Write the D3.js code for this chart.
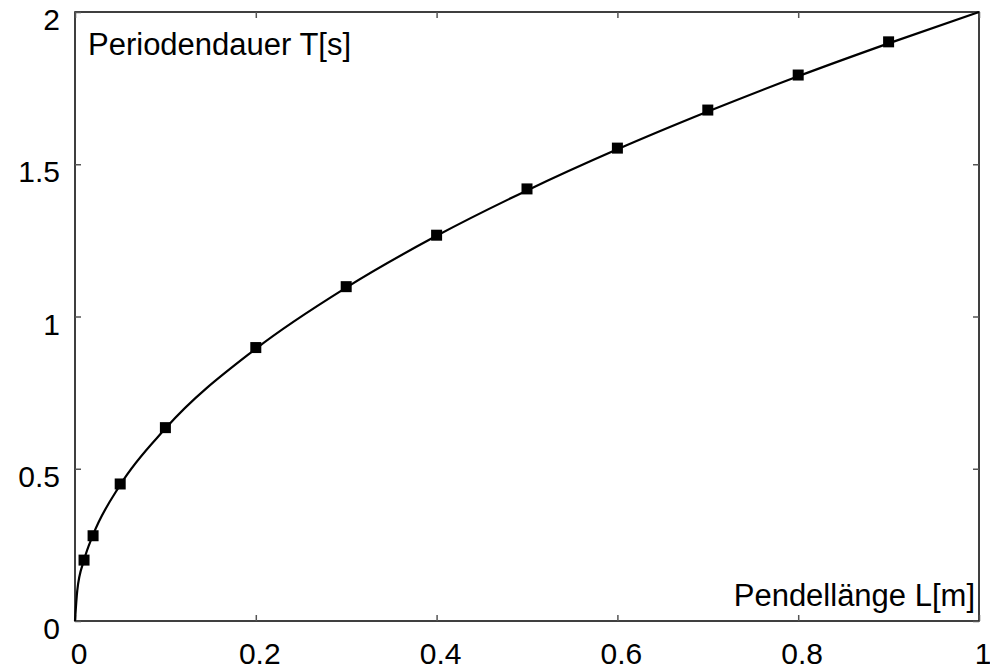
<!DOCTYPE html>
<html>
<head>
<meta charset="UTF-8">
<script src="https://d3js.org/d3.v7.min.js"></script>
<style>
  body { margin: 0; background: #fff; }
  text { font-family: "Liberation Sans", Arial, sans-serif; fill: #000; }
</style>
</head>
<body>
<svg id="chart" width="990" height="672"></svg>
<script>
// measured pendulum points
const lengths = [0.01, 0.02, 0.05, 0.1, 0.2, 0.3, 0.4, 0.5, 0.6, 0.7, 0.8, 0.9];
const periods = [0.2, 0.28, 0.45, 0.635, 0.898, 1.098, 1.267, 1.419, 1.553, 1.678, 1.793, 1.902];

// fitted curve
const curveL = [0, 0.0025, 0.01, 0.02, 0.05, 0.1, 0.2, 0.3, 0.4, 0.5, 0.6, 0.7, 0.8, 0.9, 1.0];
const curveT = [0, 0.1, 0.2, 0.283, 0.447, 0.632, 0.894, 1.095, 1.265, 1.414, 1.549, 1.673, 1.789, 1.897, 2.0];

const xTicks = [0, 0.2, 0.4, 0.6, 0.8, 1];
const xTickLabels = ["0", "0.2", "0.4", "0.6", "0.8", "1"];
const yTicks = [0, 0.5, 1, 1.5, 2];
const yTickLabels = ["0", "0.5", "1", "1.5", "2"];

const plotL = 75, plotR = 979, plotT = 12, plotB = 621;
const svg = d3.select("#chart");

const x = d3.scaleLinear().domain([0, 1]).range([plotL, plotR]);
const y = d3.scaleLinear().domain([0, 2]).range([plotB, plotT]);

// frame
svg.append("rect")
  .attr("x", plotL).attr("y", plotT)
  .attr("width", plotR - plotL).attr("height", plotB - plotT)
  .attr("fill", "none").attr("stroke", "#000").attr("stroke-width", 1.5);

// inward ticks on all four sides
const tl = 6;
svg.append("g").attr("transform", `translate(0,${plotB})`)
  .call(d3.axisBottom(x).tickValues(xTicks).tickSize(-tl).tickFormat(""))
  .call(g => g.select(".domain").remove());
svg.append("g").attr("transform", `translate(0,${plotT})`)
  .call(d3.axisTop(x).tickValues(xTicks).tickSize(-tl).tickFormat(""))
  .call(g => g.select(".domain").remove());
svg.append("g").attr("transform", `translate(${plotL},0)`)
  .call(d3.axisLeft(y).tickValues(yTicks).tickSize(-tl).tickFormat(""))
  .call(g => g.select(".domain").remove());
svg.append("g").attr("transform", `translate(${plotR},0)`)
  .call(d3.axisRight(y).tickValues(yTicks).tickSize(-tl).tickFormat(""))
  .call(g => g.select(".domain").remove());
svg.selectAll(".tick line").attr("stroke", "#555").attr("stroke-width", 1.5);

// tick labels
svg.append("g").selectAll("text").data(xTicks).join("text")
  .attr("x", d => x(d) + 4).attr("y", 664)
  .attr("text-anchor", "middle").attr("font-size", 30)
  .text((d, i) => xTickLabels[i]);
svg.append("g").selectAll("text").data(yTicks).join("text")
  .attr("x", 60).attr("y", d => y(d) + 18)
  .attr("text-anchor", "end").attr("font-size", 30)
  .text((d, i) => yTickLabels[i]);

// curve
const curvePts = curveL.map((l, i) => [l, curveT[i]]);
svg.append("path")
  .datum(curvePts)
  .attr("fill", "none").attr("stroke", "#000").attr("stroke-width", 2.2)
  .attr("d", d3.line().x(d => x(d[0])).y(d => y(d[1])).curve(d3.curveMonotoneX));

// square markers
const s = 11;
svg.append("g").selectAll("rect").data(lengths).join("rect")
  .attr("x", d => x(d) - s / 2)
  .attr("y", (d, i) => y(periods[i]) - s / 2)
  .attr("width", s).attr("height", s)
  .attr("fill", "#000");

// axis titles inside the plot
svg.append("text").attr("x", 88).attr("y", 55)
  .attr("font-size", 31).text("Periodendauer T[s]");
svg.append("text").attr("x", 975).attr("y", 606)
  .attr("text-anchor", "end").attr("font-size", 31).text("Pendellänge L[m]");
</script>
</body>
</html>
